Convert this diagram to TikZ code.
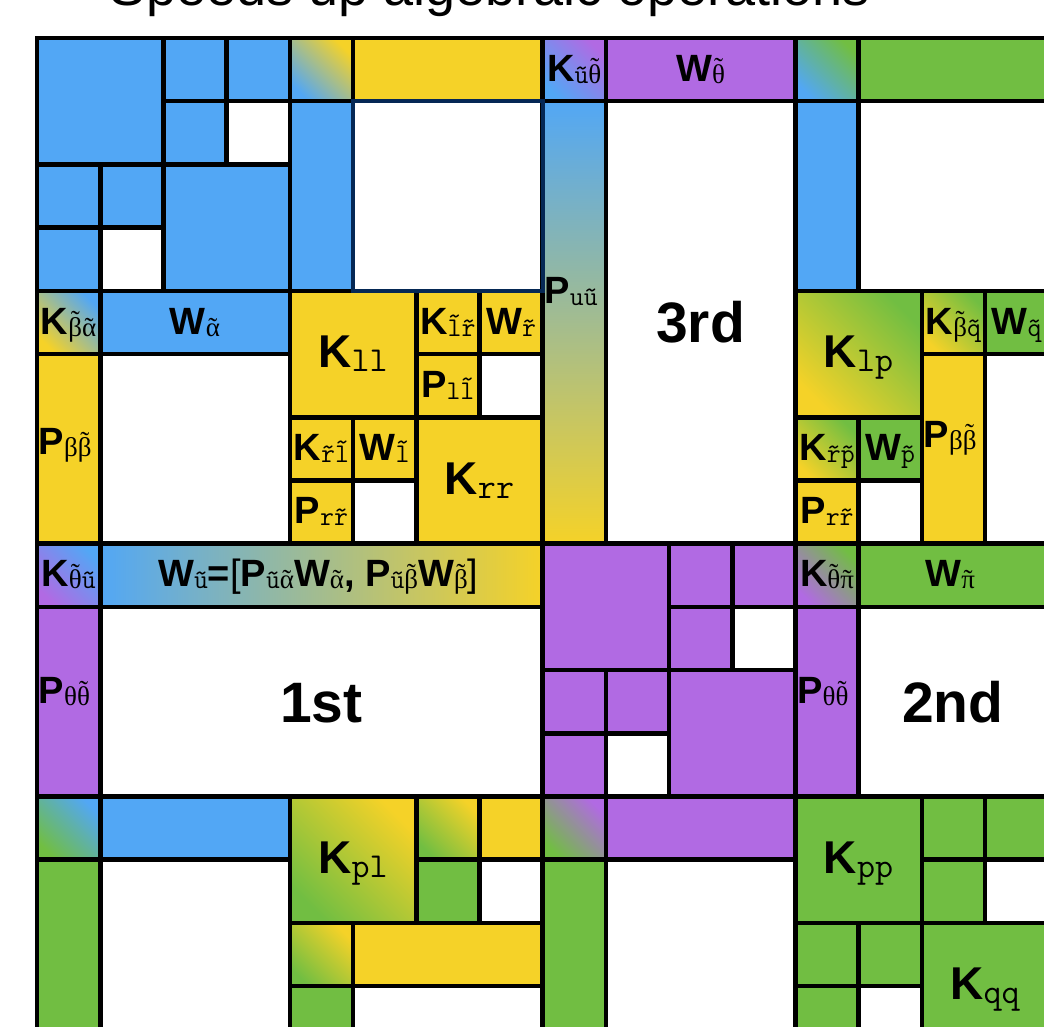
\documentclass[tikz,border=0pt]{standalone}
\usepackage{fontspec}
\setmainfont{Liberation Sans}
\newfontfamily\gk{Liberation Serif}
\definecolor{cblue}{RGB}{82,167,245}
\definecolor{cyellow}{RGB}{245,210,40}
\definecolor{cpurple}{RGB}{177,106,227}
\definecolor{cgreen}{RGB}{113,190,66}
\definecolor{cnavy}{RGB}{5,40,85}
\newcommand\tl[1]{{\accent"02DC #1}}
\newcommand\tg[1]{{\gk\accent"02DC #1}}
\newcommand\g[1]{{\gk #1}}
\newcommand\Ms{\fontsize{38}{38}\selectfont\bfseries}
\newcommand\Ss{\fontsize{27}{27}\selectfont\ttfamily\mdseries}
\newcommand\Mb{\fontsize{46}{46}\selectfont\bfseries}
\newcommand\Sb{\fontsize{35}{35}\selectfont\ttfamily\mdseries}
\newcommand\sm[2]{{\Ms #1}{\Ss\raisebox{-2pt}{#2}}}
\newcommand\bg[2]{{\Mb #1}{\Sb\raisebox{-4pt}{#2}}}
\newcommand\ord[1]{{\fontsize{57}{57}\selectfont\bfseries #1}}
\tikzset{
  cb/.style={fill=cblue}, cy/.style={fill=cyellow}, cp/.style={fill=cpurple},
  cg/.style={fill=cgreen}, cw/.style={fill=white},
  gBY/.style={bottom color=cblue, top color=cyellow, shading angle=-45},
  gBP/.style={bottom color=cblue, top color=cpurple, shading angle=-45},
  gBG/.style={bottom color=cblue, top color=cgreen, shading angle=-45},
  gYB/.style={bottom color=cyellow, top color=cblue, shading angle=-45},
  gYG/.style={bottom color=cyellow, top color=cgreen, shading angle=-45},
  gPB/.style={bottom color=cpurple, top color=cblue, shading angle=-45},
  gPG/.style={bottom color=cpurple, top color=cgreen, shading angle=-45},
  gGB/.style={bottom color=cgreen, top color=cblue, shading angle=-45},
  gGY/.style={bottom color=cgreen, top color=cyellow, shading angle=-45},
  gGP/.style={bottom color=cgreen, top color=cpurple, shading angle=-45},
  vBY/.style={top color=cblue, bottom color=cyellow},
  hBY/.style={left color=cblue, right color=cyellow},
  gridline/.style={draw=black, line width=4.6pt},
  navybox/.style={draw=cnavy, line width=4.2pt},
  lab/.style={inner sep=0pt, outer sep=0pt, anchor=base},
  labw/.style={inner sep=0pt, outer sep=0pt, anchor=base west},
}
\begin{document}
\begin{tikzpicture}[x=63.2pt,y=-63.2pt]
\useasboundingbox (-0.58544,-0.60127) rectangle (15.9335,15.6487);
\fill[white] (-0.58544,-0.60127) rectangle (15.9335,15.6487);
\clip (-0.58544,-0.60127) rectangle (15.9335,15.6487);
\node[labw] (title) at (1.155,-0.52) {\fontsize{54}{54}\selectfont Speeds up algebraic operations};
\def\cells{0/0/2/2/cb, 2/0/1/1/cb, 3/0/1/1/cb, 2/1/1/1/cb, 3/1/1/1/cw, 0/2/1/1/cb, 1/2/1/1/cb, 0/3/1/1/cb, 1/3/1/1/cw, 2/2/2/2/cb,
4/0/1/1/gBY, 5/0/3/1/cy, 4/1/1/3/cb, 5/1/3/3/cw,
8/0/1/1/gBP, 9/0/3/1/cp, 8/1/1/7/vBY, 9/1/3/7/cw,
12/0/1/1/gBG, 13/0/3.5/1/cg, 12/1/1/3/cb, 13/1/3.5/3/cw,
0/4/1/1/gYB, 1/4/3/1/cb, 0/5/1/3/cy, 1/5/3/3/cw,
4/4/2/2/cy, 6/4/1/1/cy, 7/4/1/1/cy, 6/5/1/1/cy, 7/5/1/1/cw, 4/6/1/1/cy, 5/6/1/1/cy, 4/7/1/1/cy, 5/7/1/1/cw, 6/6/2/2/cy,
12/4/2/2/gYG, 14/4/1/1/gYG, 15/4/1.5/1/cg, 14/5/1/3/cy, 15/5/1.5/3/cw, 12/6/1/1/gYG, 13/6/1/1/cg, 12/7/1/1/cy, 13/7/1/1/cw,
0/8/1/1/gPB, 1/8/7/1/hBY, 0/9/1/3/cp, 1/9/7/3/cw,
8/8/2/2/cp, 10/8/1/1/cp, 11/8/1/1/cp, 10/9/1/1/cp, 11/9/1/1/cw, 8/10/1/1/cp, 9/10/1/1/cp, 8/11/1/1/cp, 9/11/1/1/cw, 10/10/2/2/cp,
12/8/1/1/gPG, 13/8/3.5/1/cg, 12/9/1/3/cp, 13/9/3.5/3/cw,
0/12/1/1/gGB, 1/12/3/1/cb, 0/13/1/3.5/cg, 1/13/3/3.5/cw,
4/12/2/2/gGY, 6/12/1/1/gGY, 7/12/1/1/cy, 6/13/1/1/cg, 7/13/1/1/cw, 4/14/1/1/gGY, 5/14/3/1/cy, 4/15/1/1.5/cg, 5/15/3/1.5/cw,
8/12/1/1/gGP, 9/12/3/1/cp, 8/13/1/3.5/cg, 9/13/3/3.5/cw,
12/12/2/2/cg, 14/12/1/1/cg, 15/12/1.5/1/cg, 14/13/1/1/cg, 15/13/1.5/1/cw, 12/14/1/1/cg, 13/14/1/1/cg, 12/15/1/1.5/cg, 13/15/1/1.5/cw, 14/14/2.5/2.5/cg}
\foreach \xa/\ya/\wa/\ha/\sa in \cells { \path[\sa] (\xa,\ya) rectangle ++(\wa,\ha); }
\foreach \xa/\ya/\wa/\ha/\sa in \cells { \path[gridline] (\xa,\ya) rectangle ++(\wa,\ha); }
\path[navybox] (5,1) rectangle (8,4);
% small single-cell labels
\node[lab] (kba) at (0.5,4.685) {\sm{K}{\tg{β}\tg{α}}};
\node[lab] (klr) at (6.5,4.685) {\sm{K}{\tl{l}\tl{r}}};
\node[lab] (wr) at (7.5,4.685) {\sm{W}{\tl{r}}};
\node[lab] (pll) at (6.5,5.685) {\sm{P}{l\tl{l}}};
\node[lab] (krl) at (4.5,6.685) {\sm{K}{\tl{r}\tl{l}}};
\node[lab] (wl) at (5.5,6.685) {\sm{W}{\tl{l}}};
\node[lab] (prr) at (4.5,7.685) {\sm{P}{r\tl{r}}};
\node[lab] (kut) at (8.5,0.685) {\sm{K}{\tl{u}\tg{θ}}};
\node[lab] (kbq) at (14.5,4.685) {\sm{K}{\tg{β}\tl{q}}};
\node[lab] (wq) at (15.5,4.685) {\sm{W}{\tl{q}}};
\node[lab] (krp) at (12.5,6.685) {\sm{K}{\tl{r}\tl{p}}};
\node[lab] (wp) at (13.5,6.685) {\sm{W}{\tl{p}}};
\node[lab] (prr2) at (12.5,7.685) {\sm{P}{r\tl{r}}};
\node[lab] (ktu) at (0.5,8.685) {\sm{K}{\tg{θ}\tl{u}}};
\node[lab] (ktp) at (12.5,8.685) {\sm{K}{\tg{θ}\tg{π}}};
% row labels
\node[lab] (wa) at (2.5,4.685) {\sm{W}{\tg{α}}};
\node[lab] (wth) at (10.5,0.685) {\sm{W}{\tg{θ}}};
\node[lab] (wpi) at (14.45,8.685) {\sm{W}{\tg{π}}};
\node[lab] (wu) at (4.45,8.685) {\sm{W}{\tl{u}}{\Ms=}{\Ms\mdseries[}\sm{P}{\tl{u}\tg{α}}\sm{W}{\tg{α}}{\Ms, }\sm{P}{\tl{u}\tg{β}}\sm{W}{\tg{β}}{\Ms\mdseries]}};
% tall P labels
\node[labw] (pbb) at (0.03,6.592) {\sm{P}{\g{β}\tg{β}}};
\node[labw] (puu) at (8.03,4.203) {\sm{P}{u\tl{u}}};
\node[labw] (pbb2) at (14.03,6.472) {\sm{P}{\g{β}\tg{β}}};
\node[labw] (ptt) at (0.03,10.532) {\sm{P}{\g{θ}\tg{θ}}};
\node[labw] (ptt2) at (12.03,10.532) {\sm{P}{\g{θ}\tg{θ}}};
% big labels
\node[lab] (kll) at (5,5.22) {\bg{K}{ll}};
\node[lab] (krr) at (7,7.22) {\bg{K}{rr}};
\node[lab] (klp) at (13,5.22) {\bg{K}{lp}};
\node[lab] (kpl) at (5,13.22) {\bg{K}{pl}};
\node[lab] (kpp) at (13,13.22) {\bg{K}{pp}};
\node[lab] (kqq) at (15,15.22) {\bg{K}{qq}};
% order labels
\node[lab] (third) at (10.5,4.82) {\ord{3rd}};
\node[lab] (first) at (4.5,10.825) {\ord{1st}};
\node[lab] (second) at (14.49,10.825) {\ord{2nd}};
\end{tikzpicture}
\end{document}
